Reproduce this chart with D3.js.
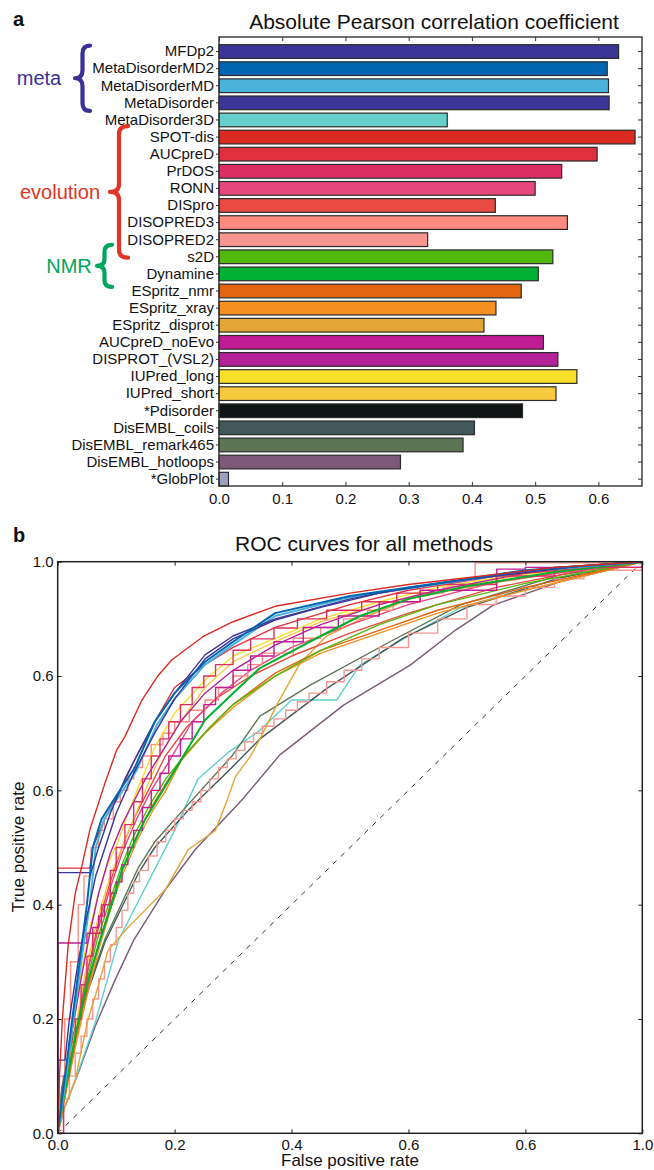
<!DOCTYPE html>
<html><head><meta charset="utf-8">
<script src="https://cdn.jsdelivr.net/npm/d3@7"></script>
<style>
html,body{margin:0;padding:0;background:#fff;}
svg text{font-family:"Liberation Sans",Arial,sans-serif;fill:#111;}
</style></head>
<body>
<svg id="chart" width="654" height="1170"></svg>
<script>
// ---------------- DATA: panel a ----------------
const barCategories = ["MFDp2","MetaDisorderMD2","MetaDisorderMD","MetaDisorder","MetaDisorder3D",
  "SPOT-dis","AUCpreD","PrDOS","RONN","DISpro","DISOPRED3","DISOPRED2",
  "s2D","Dynamine","ESpritz_nmr","ESpritz_xray","ESpritz_disprot","AUCpreD_noEvo","DISPROT_(VSL2)",
  "IUPred_long","IUPred_short","*Pdisorder","DisEMBL_coils","DisEMBL_remark465","DisEMBL_hotloops","*GlobPlot"];
const barValues = [0.632,0.614,0.616,0.617,0.361,
  0.658,0.598,0.542,0.500,0.437,0.551,0.330,
  0.528,0.505,0.478,0.438,0.419,0.513,0.536,
  0.566,0.533,0.480,0.404,0.386,0.287,0.015];
const barColors = ["#3b3598","#0066b0","#4ab3dc","#3b3598","#66d0cc",
  "#da2a22","#e0303f","#dc2e62","#e8477e","#e84a41","#ff8a80","#f79691",
  "#52b80c","#00b030","#e3650f","#f39120","#e3a535","#c01c94","#b4229a",
  "#f8e02a","#f9c940","#111414","#40585a","#5d7553","#7b5a77","#9ea0c2"];
const barTicks = [0.0,0.1,0.2,0.3,0.4,0.5,0.6];
const barTickLabels = ["0.0","0.1","0.2","0.3","0.4","0.5","0.6"];
const groupNames = ["meta","evolution","NMR"];
const groupFirst = ["MFDp2","SPOT-dis","s2D"];
const groupLast = ["MetaDisorder3D","DISOPRED2","Dynamine"];
const groupColors = ["#3a3096","#e03424","#00a65e"];

// ---------------- DATA: panel b (ROC curves, [FPR, TPR]) ----------------
const rocHotloops = [[0,0],[0.0125,0.047],[0.035,0.105],[0.064,0.187],[0.098,0.268],[0.13,0.338],[0.184,0.426],[0.235,0.496],[0.315,0.583],[0.38,0.662],[0.489,0.749],[0.603,0.819],[0.68,0.88],[0.745,0.924],[0.859,0.965],[1,1]];
const rocMeta3D = [[0,0],[0.01,0.04],[0.03,0.093],[0.064,0.193],[0.104,0.338],[0.15,0.43],[0.2,0.53],[0.24,0.62],[0.29,0.665],[0.346,0.705],[0.40,0.758],[0.477,0.758],[0.517,0.819],[0.6,0.87],[0.688,0.919],[0.86,0.971],[0.917,0.989],[1,1]];
const rocCoils = [[0,0],[0.007,0.075],[0.024,0.16],[0.052,0.25],[0.081,0.335],[0.138,0.455],[0.166,0.5],[0.223,0.565],[0.298,0.64],[0.346,0.69],[0.46,0.778],[0.59,0.866],[0.7,0.92],[0.86,0.972],[1,1]];
const rocRemark465 = [[0,0],[0.007,0.08],[0.024,0.165],[0.052,0.255],[0.081,0.34],[0.138,0.465],[0.166,0.51],[0.223,0.575],[0.298,0.66],[0.346,0.73],[0.432,0.784],[0.574,0.863],[0.688,0.924],[0.86,0.977],[1,1]];
const rocDISOPRED2 = [[0,0],[0.01,0.06],[0.02,0.1],[0.03,0.14],[0.04,0.17],[0.05,0.2],[0.06,0.235],[0.07,0.27],[0.08,0.3],[0.09,0.33],[0.1,0.36],[0.11,0.39],[0.12,0.42],[0.13,0.44],[0.14,0.46],[0.155,0.485],[0.17,0.51],[0.185,0.53],[0.2,0.55],[0.215,0.565],[0.23,0.58],[0.245,0.6],[0.26,0.62],[0.275,0.64],[0.29,0.655],[0.305,0.67],[0.32,0.685],[0.335,0.7],[0.35,0.712],[0.37,0.725],[0.39,0.74],[0.41,0.755],[0.43,0.77],[0.46,0.79],[0.49,0.81],[0.52,0.83],[0.55,0.85],[0.6,0.875],[0.65,0.9],[0.7,0.925],[0.75,0.94],[0.8,0.955],[0.85,0.97],[0.9,0.985],[1,1]];
const rocESpritzDisprot = [[0,0],[0.01,0.04],[0.03,0.093],[0.052,0.2],[0.07,0.26],[0.086,0.32],[0.12,0.36],[0.149,0.39],[0.184,0.426],[0.223,0.496],[0.27,0.53],[0.29,0.583],[0.304,0.624],[0.33,0.66],[0.346,0.69],[0.375,0.75],[0.415,0.823],[0.46,0.87],[0.53,0.905],[0.603,0.935],[0.7,0.955],[0.85,0.98],[1,1]];
const rocESpritzXray = [[0,0],[0.012,0.06],[0.03,0.15],[0.05,0.24],[0.07,0.32],[0.09,0.39],[0.11,0.45],[0.135,0.51],[0.16,0.56],[0.185,0.6],[0.212,0.653],[0.252,0.7],[0.3,0.745],[0.372,0.8],[0.45,0.84],[0.55,0.875],[0.65,0.91],[0.8,0.95],[1,1]];
const rocESpritzNmr = [[0,0],[0.012,0.065],[0.03,0.16],[0.05,0.25],[0.07,0.33],[0.09,0.4],[0.11,0.46],[0.135,0.52],[0.16,0.57],[0.19,0.62],[0.22,0.665],[0.26,0.71],[0.3,0.75],[0.372,0.805],[0.45,0.845],[0.55,0.88],[0.65,0.915],[0.8,0.955],[1,1]];
const rocDISpro = [[0,0],[0.012,0.08],[0.03,0.18],[0.05,0.28],[0.07,0.37],[0.09,0.44],[0.11,0.5],[0.13,0.55],[0.16,0.61],[0.184,0.66],[0.22,0.71],[0.27,0.76],[0.33,0.8],[0.4,0.835],[0.5,0.875],[0.6,0.91],[0.75,0.955],[0.9,0.985],[1,1]];
const rocS2D = [[0,0],[0.01,0.06],[0.028,0.17],[0.048,0.26],[0.068,0.34],[0.09,0.41],[0.11,0.47],[0.13,0.52],[0.155,0.57],[0.185,0.62],[0.22,0.665],[0.26,0.71],[0.3,0.75],[0.372,0.8],[0.45,0.845],[0.55,0.89],[0.65,0.925],[0.8,0.962],[1,1]];
const rocDynamine = [[0,0],[0.01,0.06],[0.03,0.17],[0.05,0.26],[0.07,0.33],[0.092,0.4],[0.11,0.46],[0.127,0.5],[0.15,0.55],[0.18,0.6],[0.206,0.645],[0.252,0.723],[0.3,0.77],[0.346,0.814],[0.45,0.87],[0.517,0.905],[0.6,0.935],[0.7,0.957],[0.85,0.982],[1,1]];
const rocRONN = [[0,0],[0.015,0.09],[0.03,0.18],[0.05,0.28],[0.07,0.36],[0.09,0.43],[0.11,0.49],[0.135,0.55],[0.16,0.6],[0.19,0.65],[0.23,0.72],[0.28,0.77],[0.33,0.81],[0.4,0.85],[0.5,0.89],[0.6,0.925],[0.75,0.965],[1,1]];
const rocIUPredShort = [[0,0],[0.012,0.07],[0.03,0.18],[0.045,0.27],[0.06,0.34],[0.075,0.4],[0.09,0.45],[0.11,0.5],[0.13,0.55],[0.15,0.6],[0.175,0.66],[0.21,0.72],[0.252,0.78],[0.3,0.825],[0.372,0.86],[0.45,0.895],[0.55,0.925],[0.65,0.95],[0.8,0.978],[1,1]];
const rocIUPredLong = [[0,0],[0.01,0.07],[0.025,0.18],[0.04,0.28],[0.055,0.36],[0.07,0.42],[0.085,0.47],[0.103,0.51],[0.12,0.56],[0.14,0.61],[0.166,0.675],[0.2,0.735],[0.252,0.793],[0.3,0.835],[0.372,0.866],[0.45,0.9],[0.55,0.93],[0.65,0.955],[0.8,0.98],[1,1]];
const rocVSL2 = [[0,0],[0.01,0.08],[0.025,0.18],[0.04,0.27],[0.055,0.35],[0.07,0.42],[0.09,0.49],[0.11,0.54],[0.13,0.58],[0.15,0.62],[0.18,0.67],[0.21,0.72],[0.252,0.77],[0.3,0.81],[0.372,0.854],[0.45,0.89],[0.55,0.925],[0.65,0.95],[0.8,0.98],[1,1]];
const rocAUCpreDnoEvo = [[0,0],[0,0.333],[0.041,0.333],[0.05,0.35],[0.06,0.36],[0.07,0.38],[0.08,0.4],[0.09,0.42],[0.1,0.44],[0.11,0.47],[0.12,0.5],[0.13,0.53],[0.145,0.57],[0.16,0.6],[0.175,0.63],[0.19,0.66],[0.21,0.69],[0.23,0.72],[0.25,0.75],[0.27,0.78],[0.3,0.81],[0.33,0.835],[0.37,0.86],[0.42,0.885],[0.48,0.905],[0.55,0.93],[0.62,0.95],[0.751,0.987],[0.8,0.99],[1,1]];
const rocDISOPRED3 = [[0,0],[0.003,0.1],[0.012,0.2],[0.022,0.3],[0.035,0.4],[0.045,0.45],[0.057,0.5],[0.07,0.53],[0.08,0.55],[0.095,0.58],[0.107,0.6],[0.12,0.62],[0.13,0.64],[0.145,0.66],[0.16,0.68],[0.18,0.7],[0.2,0.72],[0.225,0.74],[0.252,0.758],[0.275,0.78],[0.3,0.8],[0.325,0.82],[0.35,0.84],[0.403,0.866],[0.45,0.885],[0.489,0.9],[0.53,0.915],[0.574,0.93],[0.62,0.945],[0.66,0.956],[0.714,0.998],[1,1]];
const rocPrDOS = [[0,0],[0.01,0.1],[0.02,0.16],[0.03,0.2],[0.04,0.26],[0.05,0.31],[0.06,0.35],[0.075,0.4],[0.09,0.46],[0.1,0.5],[0.115,0.54],[0.13,0.58],[0.145,0.62],[0.16,0.66],[0.175,0.69],[0.19,0.72],[0.21,0.75],[0.23,0.78],[0.25,0.8],[0.27,0.82],[0.3,0.845],[0.33,0.865],[0.37,0.884],[0.41,0.9],[0.46,0.915],[0.52,0.93],[0.58,0.945],[0.65,0.96],[0.75,0.975],[0.85,0.99],[1,1]];
const rocAUCpreD = [[0,0],[0,0.464],[0.055,0.464],[0.06,0.5],[0.08,0.55],[0.107,0.6],[0.13,0.65],[0.166,0.72],[0.2,0.78],[0.252,0.82],[0.3,0.85],[0.372,0.885],[0.5,0.925],[0.6,0.95],[0.75,0.975],[0.9,0.99],[1,1]];
const rocMD = [[0,0],[0.012,0.08],[0.027,0.2],[0.043,0.32],[0.055,0.4],[0.065,0.5],[0.08,0.55],[0.105,0.59],[0.135,0.635],[0.17,0.715],[0.2,0.76],[0.252,0.82],[0.3,0.855],[0.372,0.905],[0.5,0.938],[0.6,0.953],[0.8,0.983],[1,1]];
const rocMD2 = [[0,0],[0.01,0.08],[0.025,0.2],[0.04,0.32],[0.05,0.4],[0.06,0.5],[0.075,0.55],[0.1,0.59],[0.132,0.64],[0.166,0.72],[0.2,0.77],[0.252,0.825],[0.3,0.86],[0.372,0.91],[0.5,0.94],[0.6,0.955],[0.8,0.985],[1,1]];
const rocMetaDisorder = [[0,0],[0,0.456],[0.057,0.456],[0.07,0.5],[0.09,0.56],[0.115,0.62],[0.14,0.67],[0.166,0.72],[0.2,0.77],[0.252,0.837],[0.3,0.87],[0.372,0.9],[0.5,0.935],[0.6,0.955],[0.75,0.975],[0.9,0.993],[1,1]];
const rocMFDp2 = [[0,0],[0,0.128],[0.0125,0.128],[0.02,0.2],[0.035,0.3],[0.05,0.38],[0.065,0.45],[0.081,0.5],[0.1,0.56],[0.13,0.63],[0.166,0.7],[0.2,0.76],[0.252,0.83],[0.3,0.865],[0.372,0.898],[0.45,0.92],[0.55,0.945],[0.7,0.97],[0.85,0.99],[1,1]];
const rocSPOTdis = [[0,0],[0.003,0.1],[0.008,0.2],[0.018,0.33],[0.03,0.42],[0.041,0.466],[0.055,0.531],[0.081,0.613],[0.101,0.671],[0.115,0.694],[0.144,0.758],[0.171,0.8],[0.195,0.828],[0.25,0.87],[0.3,0.895],[0.372,0.922],[0.5,0.945],[0.6,0.96],[0.7,0.972],[0.85,0.99],[1,1]];

const rocSeries = [
  {name:"DisEMBL_hotloops", data:rocHotloops, color:"#7b5a77"},
  {name:"MetaDisorder3D", data:rocMeta3D, color:"#5fd0d0"},
  {name:"DisEMBL_coils", data:rocCoils, color:"#40585a"},
  {name:"DisEMBL_remark465", data:rocRemark465, color:"#5d7553"},
  {name:"DISOPRED2", data:rocDISOPRED2, color:"#f79691", step:true},
  {name:"ESpritz_disprot", data:rocESpritzDisprot, color:"#e3a535"},
  {name:"ESpritz_xray", data:rocESpritzXray, color:"#f39120"},
  {name:"ESpritz_nmr", data:rocESpritzNmr, color:"#e3650f"},
  {name:"DISpro", data:rocDISpro, color:"#e84a41"},
  {name:"s2D", data:rocS2D, color:"#52b80c"},
  {name:"RONN", data:rocRONN, color:"#e8477e"},
  {name:"DISOPRED3", data:rocDISOPRED3, color:"#ff8a80", step:true},
  {name:"IUPred_short", data:rocIUPredShort, color:"#f9c940"},
  {name:"IUPred_long", data:rocIUPredLong, color:"#f8e02a"},
  {name:"DISPROT_(VSL2)", data:rocVSL2, color:"#b4229a"},
  {name:"AUCpreD_noEvo", data:rocAUCpreDnoEvo, color:"#c01c94", step:true},
  {name:"PrDOS", data:rocPrDOS, color:"#dc2e62", step:true},
  {name:"Dynamine", data:rocDynamine, color:"#00b030", w:2},
  {name:"AUCpreD", data:rocAUCpreD, color:"#e0303f"},
  {name:"MetaDisorderMD", data:rocMD, color:"#4ab3dc", w:2},
  {name:"MetaDisorder", data:rocMetaDisorder, color:"#3b3598"},
  {name:"MFDp2", data:rocMFDp2, color:"#3b3598"},
  {name:"MetaDisorderMD2", data:rocMD2, color:"#0066b0", w:2},
  {name:"SPOT-dis", data:rocSPOTdis, color:"#da2a22"}
];
const rocTicks = [0,0.2,0.4,0.6,0.8,1.0];
const rocTickLabels = ["0.0","0.2","0.4","0.6","0.6","1.0"];

// ---------------- DRAW ----------------
const svg = d3.select("#chart");

// ===== Panel a =====
const ax = d3.scaleLinear().domain([0,0.669]).range([219,642]);
const ay = d3.scaleBand().domain(barCategories).range([44.7,486]).paddingInner(0.2).paddingOuter(0);
const axTop = 37, axBottom = 486;

svg.append("text").attr("x",13).attr("y",26).attr("font-size",20).attr("font-weight","bold").text("a");
svg.append("text").attr("x",434).attr("y",29).attr("text-anchor","middle").attr("font-size",21)
  .text("Absolute Pearson correlation coefficient");

const ga = svg.append("g");
ga.selectAll("rect.bar").data(barCategories).join("rect").attr("class","bar")
  .attr("x",ax(0)).attr("y",d=>ay(d)).attr("width",(d,i)=>ax(barValues[i])-ax(0))
  .attr("height",ay.bandwidth()).attr("fill",(d,i)=>barColors[i])
  .attr("stroke","#2b2b2b").attr("stroke-width",1.2);

// frame
ga.append("rect").attr("x",ax(0)).attr("y",axTop).attr("width",642-ax(0)).attr("height",axBottom-axTop)
  .attr("fill","none").attr("stroke","#333").attr("stroke-width",1.4);

// bottom axis
const gb = ga.append("g").attr("transform",`translate(0,${axBottom})`)
  .call(d3.axisBottom(ax).tickValues(barTicks).tickFormat((d,i)=>barTickLabels[i]).tickSize(-4).tickPadding(7));
gb.select(".domain").remove();
gb.selectAll("text").attr("font-size",15).attr("font-family","Liberation Sans, Arial, sans-serif").attr("fill","#111");
gb.selectAll("line").attr("stroke","#333");
// top ticks
const gt = ga.append("g").attr("transform",`translate(0,${axTop})`)
  .call(d3.axisTop(ax).tickValues(barTicks).tickFormat("").tickSize(-4));
gt.select(".domain").remove(); gt.selectAll("line").attr("stroke","#333");
// left axis with labels
const gl = ga.append("g").attr("transform",`translate(${ax(0)},0)`)
  .call(d3.axisLeft(ay).tickSize(3).tickPadding(2));
gl.select(".domain").remove();
gl.selectAll("text").attr("font-size",15).attr("font-family","Liberation Sans, Arial, sans-serif").attr("fill","#111");
gl.selectAll("line").attr("stroke","#333");
// right ticks
const gr = ga.append("g").attr("transform",`translate(642,0)`)
  .call(d3.axisRight(ay).tickSize(-4).tickFormat(""));
gr.select(".domain").remove(); gr.selectAll("line").attr("stroke","#333");

// group braces
const braceGeom = [
  {tip:75, end:90, top:-6, bot:-9, lx:39, ly:89},
  {tip:110, end:128, top:-11, bot:18, lx:60, ly:200},
  {tip:97, end:112, top:-12, bot:13, lx:69, ly:279}
];
function bracePath(xTip,xEnd,y0,y1){
  const xm=(xTip+xEnd)/2, ym=(y0+y1)/2, r=Math.min(8,(y1-y0)/6);
  return `M${xEnd},${y0} Q${xm},${y0} ${xm},${y0+r} L${xm},${ym-r} Q${xm},${ym} ${xTip},${ym} Q${xm},${ym} ${xm},${ym+r} L${xm},${y1-r} Q${xm},${y1} ${xEnd},${y1}`;
}
groupNames.forEach((g,i)=>{
  const b = braceGeom[i];
  const y0 = ay(groupFirst[i]) + ay.bandwidth()/2 + b.top;
  const y1 = ay(groupLast[i]) + ay.bandwidth()/2 + b.bot;
  svg.append("path").attr("d",bracePath(b.tip,b.end,y0,y1)).attr("fill","none")
    .attr("stroke",groupColors[i]).attr("stroke-width",4.2).attr("stroke-linecap","round").attr("stroke-linejoin","round");
  svg.append("text").attr("x",b.lx).attr("y",(y0+y1)/2+7).attr("text-anchor","middle")
    .attr("font-size",20).style("fill",groupColors[i]).text(g);
});

// ===== Panel b =====
const rx = d3.scaleLinear().domain([0,1]).range([57.7,642.3]);
const ry = d3.scaleLinear().domain([0,1]).range([1133.3,561.7]);

svg.append("text").attr("x",13).attr("y",542).attr("font-size",20).attr("font-weight","bold").text("b");
svg.append("text").attr("x",364).attr("y",551).attr("text-anchor","middle").attr("font-size",21)
  .text("ROC curves for all methods");

const gp = svg.append("g");
svg.append("defs").append("clipPath").attr("id","clipRoc").append("rect")
  .attr("x",rx(0)).attr("y",ry(1)).attr("width",rx(1)-rx(0)).attr("height",ry(0)-ry(1));

const curves = gp.append("g").attr("clip-path","url(#clipRoc)");
// diagonal
curves.append("path").attr("d",d3.line().x(d=>rx(d[0])).y(d=>ry(d[1]))([[0,0],[1,1]]))
  .attr("stroke","#333").attr("stroke-width",1).attr("stroke-dasharray","5,6").attr("fill","none");
rocSeries.forEach(s=>{
  const ln = d3.line().x(d=>rx(d[0])).y(d=>ry(d[1])).curve(s.step?d3.curveStepAfter:d3.curveLinear);
  curves.append("path").attr("d",ln(s.data)).attr("fill","none").attr("stroke",s.color)
    .attr("stroke-width",s.w||1.4).attr("stroke-linejoin","round");
});

gp.append("rect").attr("x",rx(0)).attr("y",ry(1)).attr("width",rx(1)-rx(0)).attr("height",ry(0)-ry(1))
  .attr("fill","none").attr("stroke","#222").attr("stroke-width",1.5);

const fmtX = (d,i)=>rocTickLabels[i];
const pb = gp.append("g").attr("transform",`translate(0,${ry(0)})`)
  .call(d3.axisBottom(rx).tickValues(rocTicks).tickFormat(fmtX).tickSize(-4).tickPadding(6));
const pt = gp.append("g").attr("transform",`translate(0,${ry(1)})`)
  .call(d3.axisTop(rx).tickValues(rocTicks).tickFormat("").tickSize(-4));
const pl = gp.append("g").attr("transform",`translate(${rx(0)},0)`)
  .call(d3.axisLeft(ry).tickValues(rocTicks).tickFormat(fmtX).tickSize(-4).tickPadding(4));
const pr = gp.append("g").attr("transform",`translate(${rx(1)},0)`)
  .call(d3.axisRight(ry).tickValues(rocTicks).tickFormat("").tickSize(-4));
[pb,pt,pl,pr].forEach(g=>{
  g.select(".domain").remove();
  g.selectAll("line").attr("stroke","#222");
  g.selectAll("text").attr("font-size",15).attr("font-family","Liberation Sans, Arial, sans-serif").attr("fill","#111");
});

svg.append("text").attr("x",350).attr("y",1166).attr("text-anchor","middle").attr("font-size",17).text("False positive rate");
svg.append("text").attr("transform","translate(24,847) rotate(-90)").attr("text-anchor","middle").attr("font-size",17).text("True positive rate");
</script>
</body></html>
